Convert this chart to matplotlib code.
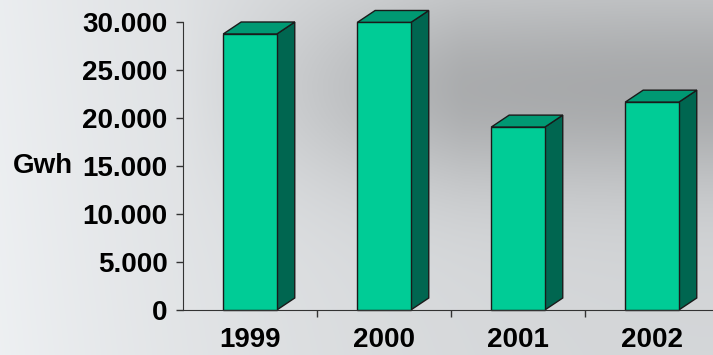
import numpy as np
import matplotlib
matplotlib.use("Agg")
import matplotlib.pyplot as plt
from matplotlib.patches import Polygon

years = ["1999", "2000", "2001", "2002"]
gwh = [28750, 29950, 19050, 21650]
yticks = [0, 5000, 10000, 15000, 20000, 25000, 30000]
ytick_labels = ["0", "5.000", "10.000", "15.000", "20.000", "25.000", "30.000"]

W, H = 713, 355
fig = plt.figure(figsize=(W / 100, H / 100), dpi=100)

# background (sky-like gradient)
bg = fig.add_axes([0, 0, 1, 1], zorder=0)
yy, xx = np.mgrid[0:1:200j, 0:1:400j]
base = 0.83 + 0.10 * (1 - xx) ** 2
cloud = 0.17 * np.exp(-((yy - 0.25) / 0.28) ** 2) * np.clip((xx - 0.25) / 0.4, 0, 1)
img = np.clip(base - cloud + 0.01 * yy, 0, 1)
rgb = np.dstack([img * 0.99, img * 1.0, img * 1.01])
bg.imshow(np.clip(rgb, 0, 1), extent=[0, 1, 0, 1], aspect="auto", origin="upper")
bg.axis("off")

ax = fig.add_axes([183 / W, 45 / H, 536 / W, 288 / H], zorder=1)
ax.patch.set_alpha(0)
x = np.arange(1, len(years) + 1)
w = 0.40
dx, dy = 0.134, 1250

front = "#00CC96"
topc = "#009973"
sidec = "#006650"
edge = "#1a1a1a"

ax.bar(x, gwh, width=w, color=front, edgecolor=edge, linewidth=1.0, zorder=3, clip_on=False)
for xi, v in zip(x, gwh):
    r = xi + w / 2
    l = xi - w / 2
    side = Polygon([(r, 0), (r + dx, dy), (r + dx, v + dy), (r, v)], closed=True,
                   facecolor=sidec, edgecolor=edge, linewidth=1.0, zorder=2, clip_on=False)
    top = Polygon([(l, v), (l + dx, v + dy), (r + dx, v + dy), (r, v)], closed=True,
                  facecolor=topc, edgecolor=edge, linewidth=1.0, zorder=2, clip_on=False)
    ax.add_patch(side)
    ax.add_patch(top)

ax.set_xlim(0.5, 4.5)
ax.set_ylim(0, 30000)
ax.set_yticks(yticks)
ax.set_yticklabels(ytick_labels)
ax.set_xticks(x)
ax.set_xticklabels(years)
ax.set_xticks([1.5, 2.5, 3.5], minor=True)
ax.tick_params(axis="x", which="major", length=0, pad=12)
ax.tick_params(axis="x", which="minor", length=5, direction="out", color="#333333", width=1)
ax.tick_params(axis="y", length=5, direction="out", color="#333333", width=1, pad=6)
for lab in ax.get_xticklabels() + ax.get_yticklabels():
    lab.set_fontfamily("Liberation Sans")
    lab.set_fontweight("bold")
    lab.set_fontsize(20)
    lab.set_color("black")
for s in ["top", "right"]:
    ax.spines[s].set_visible(False)
ax.spines["left"].set_color("#333333")
ax.spines["bottom"].set_color("#333333")
ax.spines["left"].set_zorder(4)
ax.spines["bottom"].set_zorder(4)

fig.text(13 / W, 1 - 166 / H, "Gwh", ha="left", va="center", fontsize=20,
         fontweight="bold", fontfamily="Liberation Sans", color="black")

fig.savefig("out.png", dpi=100)
